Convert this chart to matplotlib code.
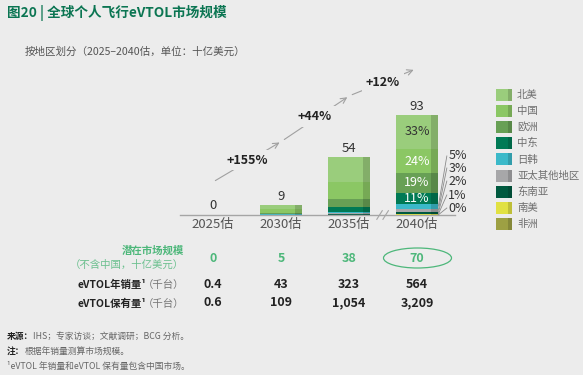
import matplotlib
matplotlib.use("Agg")
import matplotlib.pyplot as plt
import matplotlib.transforms as mtransforms
from matplotlib.patches import Rectangle, Ellipse
import numpy as np

plt.rcParams['font.family'] = ['Noto Sans CJK SC', 'DejaVu Sans']

# data
years = ['2025估', '2030估', '2035估', '2040估']
totals = [0, 9, 54, 93]
regions = ['北美', '中国', '欧洲', '中东', '日韩', '亚太其他地区', '东南亚', '南美', '非洲']
colors = ['#9ACD7C', '#8BC764', '#68A055', '#007A55', '#3BB9C9',
          '#A7A7A9', '#00593F', '#E1E142', '#9DA043']
# values per region (top of stack first), 十亿美元
na = [0.15, 3.5, 23.0, 31.5]
cn = [0.1, 3.3, 16.0, 22.7]
eu = [0.1, 1.3, 8.0, 17.9]
me = [0.03, 0.4, 4.0, 10.3]
jk = [0.02, 0.3, 1.5, 4.7]
apac = [0.0, 0.1, 0.6, 2.8]
sea = [0.0, 0.05, 0.5, 1.9]
sa = [0.0, 0.03, 0.3, 0.9]
af = [0.0, 0.02, 0.1, 0.3]
stack = [na, cn, eu, me, jk, apac, sea, sa, af]
pct_2040 = ['33%', '24%', '19%', '11%', '5%', '3%', '2%', '1%', '0%']
growth = ['+155%', '+44%', '+12%']
tam = ['0', '5', '38', '70']
sales = ['0.4', '43', '323', '564']
fleet = ['0.6', '109', '1,054', '3,209']

bg = '#ECECEC'
green = '#4DB77A'
W, H = 583, 375


def fx(px):
    return px / W


def fy(py):
    return 1 - py / H


def darker(c, f=0.85):
    r, g, b = matplotlib.colors.to_rgb(c)
    return (r * f, g * f, b * f)


fig = plt.figure(figsize=(W / 100, H / 100), dpi=100, facecolor=bg)
ax = fig.add_axes([fx(180), fy(215), 275 / W, 155 / H])
ax.set_facecolor(bg)
ax.set_xlim(-0.485, 3.56)
ax.set_ylim(0, 144.2)
ax.axis('off')

x = np.arange(len(years))
bw = 0.63
strip = 0.18 * bw
bottom = np.zeros(len(years))
# stack from the bottom (非洲) upwards
for vals, c in list(zip(stack, colors))[::-1]:
    v = np.array(vals)
    ax.bar(x, v, bw, bottom=bottom, color=c, linewidth=0)
    ax.bar(x + bw / 2 - strip, v, strip, bottom=bottom, color=darker(c), linewidth=0, align='edge')
    bottom += v

# baseline
ax.plot([-0.485, 3.56], [0, 0], color='#A5A5A5', lw=1, clip_on=False)
# axis break
for dx in (-0.05, 0.04):
    ax.plot([2.5 + dx - 0.04, 2.5 + dx + 0.04], [-4, 4], color='#A5A5A5', lw=0.8, clip_on=False)

for i, t in enumerate(totals):
    ax.text(x[i], bottom[i] + 2, str(t), ha='center', va='bottom', fontsize=9.5, color='#333333')
    ax.text(x[i], -2.5, years[i], ha='center', va='top', fontsize=9.5, color='#555555')

# percent labels for 2040
cum = np.cumsum([s[3] for s in stack[::-1]])[::-1]
for k in range(4):
    mid = cum[k] - stack[k][3] / 2
    ax.text(3, mid, pct_2040[k], ha='center', va='center', fontsize=9,
            color='#333333' if k == 0 else 'white')
side_y = [54.9, 43.7, 31.6, 18.6, 6.5]
for j, k in enumerate(range(4, 9)):
    mid = cum[k] - stack[k][3] / 2
    ax.plot([3 + bw / 2, 3.44], [mid, side_y[j]], color='#8A8A8A', lw=0.6, clip_on=False)
    ax.text(3.46, side_y[j], pct_2040[k], ha='left', va='center', fontsize=9, color='#333333')

# growth arrows
arrow_pts = [((0, 30.7), (1.015, 68.8)), ((1.015, 68.8), (2.01, 111)), ((2.01, 111), (2.99, 136))]
label_pts = [(0.5, 51), (1.5, 91.5), (2.5, 123.5)]
for (p0, p1), (lx, ly), g in zip(arrow_pts, label_pts, growth):
    ax.annotate('', xy=p1, xytext=p0,
                arrowprops=dict(arrowstyle='->', color='#A0A0A0', lw=0.8, mutation_scale=10),
                annotation_clip=False)
    ax.text(lx, ly, g, ha='center', va='center', fontsize=9, fontweight='bold', color='#222222',
            bbox=dict(boxstyle='square,pad=0.3', fc=bg, ec='none'))

# legend
for i, (r, c) in enumerate(zip(regions, colors)):
    yc = 95 + i * 16.1
    fig.patches.append(Rectangle((fx(496), fy(yc + 6)), 16 / W, 12 / H, transform=fig.transFigure,
                                 color=c, lw=0))
    fig.patches.append(Rectangle((fx(508), fy(yc + 6)), 4 / W, 12 / H, transform=fig.transFigure,
                                 color=darker(c), lw=0))
    fig.text(fx(517), fy(yc), r, ha='left', va='center', fontsize=7.5, color='#6E6E6E')

# table
tr = mtransforms.blended_transform_factory(ax.transData, fig.transFigure)
for i in range(4):
    ax.text(x[i], fy(258), tam[i], transform=tr, ha='center', va='center', fontsize=9,
            fontweight='bold', color=green)
    ax.text(x[i], fy(284), sales[i], transform=tr, ha='center', va='center', fontsize=9,
            fontweight='bold', color='#222222')
    ax.text(x[i], fy(303), fleet[i], transform=tr, ha='center', va='center', fontsize=9,
            fontweight='bold', color='#222222')
fig.patches.append(Ellipse((fx(417.5), fy(258)), 68 / W, 20 / H, transform=fig.transFigure,
                           fill=False, ec=green, lw=0.9))

fig.text(fx(184), fy(251), '潜在市场规模', ha='right', va='center', fontsize=7.5,
         fontweight='bold', color=green)
fig.text(fx(184), fy(265), '（不含中国，十亿美元）', ha='right', va='center', fontsize=7.5,
         color='#6CC08F')
fig.text(fx(146), fy(285), 'eVTOL年销量¹', ha='right', va='center', fontsize=7.5,
         fontweight='bold', color='#222222')
fig.text(fx(184), fy(285), '（千台）', ha='right', va='center', fontsize=7.5, color='#777777')
fig.text(fx(146), fy(304), 'eVTOL保有量¹', ha='right', va='center', fontsize=7.5,
         fontweight='bold', color='#222222')
fig.text(fx(184), fy(304), '（千台）', ha='right', va='center', fontsize=7.5, color='#777777')

# titles
fig.text(fx(7), fy(13), '图20 | 全球个人飞行eVTOL市场规模', ha='left', va='center',
         fontsize=9.8, fontweight='bold', color='#0B7552')
fig.text(fx(25), fy(52), '按地区划分（2025–2040估，单位：十亿美元）', ha='left', va='center',
         fontsize=7.6, color='#555555')

# footnotes: bold lead-in followed by regular text
renderer = fig.canvas.get_renderer()


def note(py, lead, rest):
    x0 = fx(7)
    if lead:
        t = fig.text(x0, fy(py), lead, ha='left', va='center', fontsize=6.3, fontweight='bold',
                     color='#222222')
        bb = t.get_window_extent(renderer)
        x0 = bb.x1 / fig.bbox.width
    fig.text(x0, fy(py), rest, ha='left', va='center', fontsize=6.3, color='#666666')


note(336, '来源：', 'IHS；专家访谈；文献调研；BCG 分析。')
note(351, '注：', '根据年销量测算市场规模。')
note(366, '', '¹eVTOL 年销量和eVTOL 保有量包含中国市场。')

fig.savefig('out.png', dpi=100, facecolor=bg)
